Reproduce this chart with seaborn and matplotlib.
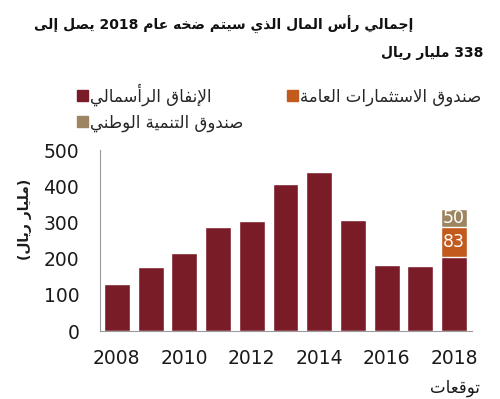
import re
import matplotlib
matplotlib.use("Agg")
import matplotlib.pyplot as plt
from matplotlib.patches import Patch
import pandas as pd
import seaborn as sns

# ── Data ──────────────────────────────────────────────────────────────────────
YEARS = ["2008", "2009", "2010", "2011", "2012", "2013", "2014", "2015", "2016", "2017", "2018"]
CAPEX = [130, 178, 215, 287, 305, 406, 438, 307, 182, 180, 205]   # الإنفاق الرأسمالي
PIF   = [0, 0, 0, 0, 0, 0, 0, 0, 0, 0, 83]                        # صندوق الاستثمارات العامة
NDF   = [0, 0, 0, 0, 0, 0, 0, 0, 0, 0, 50]                        # صندوق التنمية الوطني

TITLE_1 = "إجمالي رأس المال الذي سيتم ضخه عام 2018 يصل إلى"
TITLE_2 = "338 مليار ريال"
LEG_CAPEX = "الإنفاق الرأسمالي"
LEG_PIF   = "صندوق الاستثمارات العامة"
LEG_NDF   = "صندوق التنمية الوطني"
Y_LABEL   = "(مليار ريال)"
FORECAST  = "توقعات"

RED, ORANGE, TAN = "#7a1c27", "#c25a1e", "#9c8560"

# ── Arabic shaping (matplotlib has no complex text layout) ───────────────────
FORMS = {
    "ا": (0xFE8D, False), "أ": (0xFE83, False), "إ": (0xFE87, False), "آ": (0xFE81, False),
    "ب": (0xFE8F, True), "ة": (0xFE93, False), "ت": (0xFE95, True), "ث": (0xFE99, True),
    "ج": (0xFE9D, True), "ح": (0xFEA1, True), "خ": (0xFEA5, True), "د": (0xFEA9, False),
    "ذ": (0xFEAB, False), "ر": (0xFEAD, False), "ز": (0xFEAF, False), "س": (0xFEB1, True),
    "ش": (0xFEB5, True), "ص": (0xFEB9, True), "ض": (0xFEBD, True), "ط": (0xFEC1, True),
    "ظ": (0xFEC5, True), "ع": (0xFEC9, True), "غ": (0xFECD, True), "ف": (0xFED1, True),
    "ق": (0xFED5, True), "ك": (0xFED9, True), "ل": (0xFEDD, True), "م": (0xFEE1, True),
    "ن": (0xFEE5, True), "ه": (0xFEE9, True), "و": (0xFEED, False), "ى": (0xFEEF, False),
    "ي": (0xFEF1, True),
}
LAM_ALEF = {"آ": 0xFEF5, "أ": 0xFEF7, "إ": 0xFEF9, "ا": 0xFEFB}


def shape(s):
    out, i, prev_joins = [], 0, False
    while i < len(s):
        c = s[i]
        if c not in FORMS:
            out.append(c)
            prev_joins = False
            i += 1
            continue
        if c == "ل" and i + 1 < len(s) and s[i + 1] in LAM_ALEF:
            out.append(chr(LAM_ALEF[s[i + 1]] + (1 if prev_joins else 0)))
            prev_joins = False
            i += 2
            continue
        base, dual = FORMS[c]
        nxt = s[i + 1] if i + 1 < len(s) else ""
        next_joins = dual and nxt in FORMS
        if prev_joins and next_joins:
            f = 3
        elif prev_joins:
            f = 1
        elif next_joins:
            f = 2
        else:
            f = 0
        out.append(chr(base + f))
        prev_joins = dual
        i += 1
    return "".join(out)


def ar(s):
    t = shape(s)[::-1]
    t = re.sub(r"[0-9]+", lambda m: m.group(0)[::-1], t)
    return t.translate(str.maketrans("()", ")("))


# ── Plot ──────────────────────────────────────────────────────────────────────
sns.set_style("white")
plt.rcParams["font.family"] = ["DejaVu Sans"]

df = pd.DataFrame({"year": YEARS, "capex": CAPEX, "pif": PIF, "ndf": NDF})
df["lvl2"] = df["capex"] + df["pif"]
df["lvl3"] = df["lvl2"] + df["ndf"]

fig = plt.figure(figsize=(5.0, 3.99), dpi=100)
ax = fig.add_axes([0.2, 0.170, 0.744, 0.454])

for col, color in (("lvl3", TAN), ("lvl2", ORANGE), ("capex", RED)):
    sns.barplot(data=df, x="year", y=col, color=color, saturation=1,
                width=0.77, ax=ax, errorbar=None)

# segment labels on the forecast bar
last = len(YEARS) - 1
ax.text(last, df["capex"][last] + PIF[last] / 2, str(PIF[last]), color="white",
        ha="center", va="center", fontsize=12.5)
ax.text(last, df["lvl2"][last] + NDF[last] / 2, str(NDF[last]), color="white",
        ha="center", va="center", fontsize=12.5)

ax.set_ylim(0, 500)
ax.set_xlim(-0.5, len(YEARS) - 0.47)
ax.set_yticks([0, 100, 200, 300, 400, 500])
ax.set_xticks([i - 0.5 for i in range(0, len(YEARS), 2)])
ax.set_xticklabels([])
ax.set_xticks(list(range(0, len(YEARS), 2)), minor=True)
ax.set_xticklabels(YEARS[::2], minor=True)
ax.tick_params(axis="x", which="major", length=6, width=0.8, color="#9a9a9a", direction="out")
ax.tick_params(axis="x", which="minor", length=0, pad=13, labelsize=13.5, labelcolor="#1a1a1a")
ax.tick_params(axis="y", length=6, width=0.8, color="#9a9a9a", direction="out",
               pad=9, labelsize=13.5, labelcolor="#1a1a1a")
ax.set_xlabel("")
ax.set_ylabel("")
for side in ("top", "right"):
    ax.spines[side].set_visible(False)
for side in ("left", "bottom"):
    ax.spines[side].set_color("#9a9a9a")
    ax.spines[side].set_linewidth(0.8)

fig.text(0.05, 0.449, ar(Y_LABEL), rotation=90, ha="center", va="center",
         fontsize=10, fontweight="bold", color="#1a1a1a")
fig.text(0.91, 0.028, ar(FORECAST), ha="center", va="center", fontsize=12, color="#1a1a1a")

fig.text(0.826, 0.937, ar(TITLE_1), ha="right", va="center", fontsize=10,
         fontweight="bold", color="#111111")
fig.text(0.966, 0.867, ar(TITLE_2), ha="right", va="center", fontsize=10,
         fontweight="bold", color="#111111")

handles = [Patch(color=RED), Patch(color=TAN), Patch(color=ORANGE)]
labels = [ar(LEG_CAPEX), ar(LEG_NDF), ar(LEG_PIF)]
fig.legend(handles, labels, ncol=2, loc="upper left", bbox_to_anchor=(0.14, 0.808),
           frameon=False, fontsize=12, handlelength=0.65, handleheight=0.65,
           handletextpad=0.15, columnspacing=2.6, labelspacing=0.45, borderaxespad=0)

fig.savefig("out.png", dpi=100)
